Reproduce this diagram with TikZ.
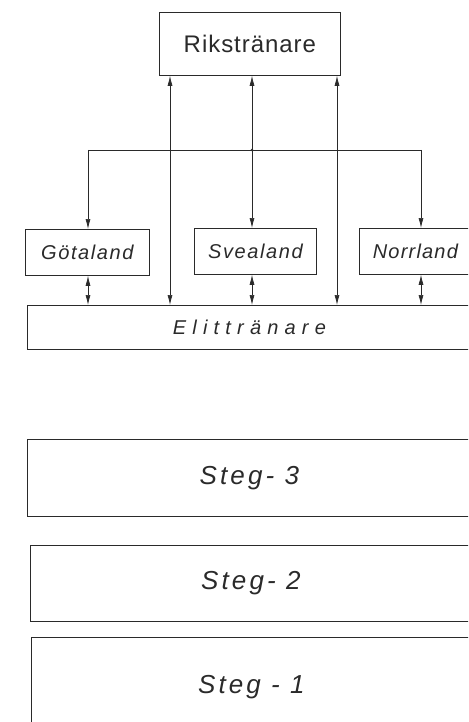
\documentclass[tikz,border=0pt]{standalone}
\usepackage{fontspec}
\setsansfont{Liberation Sans}
\usetikzlibrary{arrows.meta}
\definecolor{ink}{HTML}{2A2A2A}
\tikzset{
  box/.style={draw=ink, line width=0.8pt, anchor=north west, inner sep=0pt, text=ink, font=\sffamily},
  line/.style={draw=ink, line width=0.7pt},
  tip/.tip={Latex[length=10pt,width=5pt]},
  uparr/.style={line, -tip},
  dblarr/.style={line, tip-tip},
}
\begin{document}
\begin{tikzpicture}[x=1pt,y=-1pt]
\useasboundingbox (0,0) rectangle (468,722);
\clip (0,0) rectangle (468,722);
% boxes
\node[box, minimum width=181pt, minimum height=63pt] (riks) at (159,12)
  {\fontsize{24}{24}\selectfont\addfontfeature{LetterSpace=4}Rikstränare};
\node[box, minimum width=124pt, minimum height=46pt] (got) at (25,229)
  {\fontsize{20}{20}\selectfont\itshape\addfontfeature{LetterSpace=8}Götaland};
\node[box, minimum width=122pt, minimum height=46pt] (sve) at (194,228)
  {\fontsize{20}{20}\selectfont\itshape\addfontfeature{LetterSpace=8}Svealand};
\node[box, minimum width=112pt, minimum height=46pt] (nor) at (359,228)
  {\fontsize{20}{20}\selectfont\itshape\addfontfeature{LetterSpace=6}Norrland};
\node[box, minimum width=444pt, minimum height=44pt] (elit) at (27,305)
  {\fontsize{20}{20}\selectfont\itshape\addfontfeature{LetterSpace=31}Elittränare};
\node[box, minimum width=444pt, minimum height=77pt] (s3) at (27,439)
  {\fontsize{26}{26}\selectfont\itshape\addfontfeature{LetterSpace=12}Steg- 3};
\node[box, minimum width=441pt, minimum height=76pt] (s2) at (30,545)
  {\fontsize{26}{26}\selectfont\itshape\addfontfeature{LetterSpace=12}Steg- 2};
\node[box, minimum width=440pt, minimum height=100pt] (s1) at (31,637)
  {\fontsize{26}{26}\selectfont\itshape\addfontfeature{LetterSpace=12}Steg - 1};
% coordinates
\coordinate (busL) at (88,150);
\coordinate (busM) at (252,150);
\coordinate (busR) at (421,150);
\coordinate (vL) at (170,0);
\coordinate (vR) at (337,0);
% bus
\draw[line] (busL) -- (busR);
\fill[ink] (busM) circle (1.3pt);
\draw[uparr] (busM) -- (busM |- riks.south);
\draw[uparr] (busL) -- (busL |- got.north);
\draw[uparr] (busM) -- (busM |- sve.north);
\draw[uparr] (busR) -- (busR |- nor.north);
% long lines
\draw[dblarr] (vL |- elit.north) -- (vL |- riks.south);
\draw[dblarr] (vR |- elit.north) -- (vR |- riks.south);
% regional to elit
\draw[dblarr] (busL |- got.south) -- (busL |- elit.north);
\draw[dblarr] (busM |- sve.south) -- (busM |- elit.north);
\draw[dblarr] (busR |- nor.south) -- (busR |- elit.north);
\end{tikzpicture}
\end{document}
